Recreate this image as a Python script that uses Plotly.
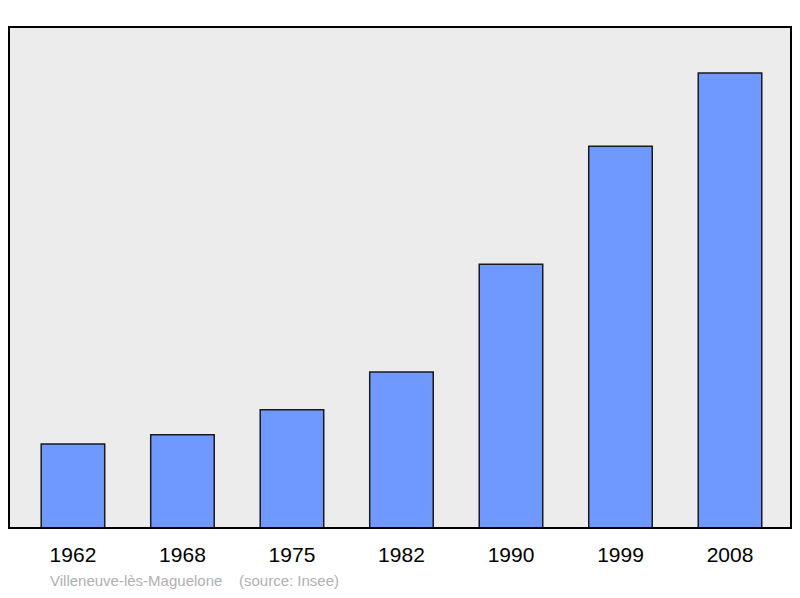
import plotly.graph_objects as go

years = ["1962", "1968", "1975", "1982", "1990", "1999", "2008"]
population = [1616, 1797, 2279, 3003, 5081, 7351, 8763]
labels = [f"{v:,}".replace(",", " ") for v in population]

fig = go.Figure(go.Bar(
    x=years, y=population, width=0.58,
    marker=dict(color="#7099ff", line=dict(color="#1a1a1a", width=1.5)),
))

notes = [dict(x=yr, y=v, text=t, showarrow=False, yanchor="bottom", yshift=8,
              font=dict(family="Liberation Sans", size=19, color="black"))
         for yr, v, t in zip(years, population, labels)]
notes.append(dict(text="Villeneuve-lès-Maguelone    (source: Insee)",
                  xref="paper", yref="paper", x=0.05, y=-0.105,
                  xanchor="left", yanchor="middle", showarrow=False,
                  font=dict(family="Liberation Sans", size=15, color="#b0b0b0")))

fig.update_layout(
    width=784, height=582,
    margin=dict(l=1, r=1, t=19, b=62),
    paper_bgcolor="white", plot_bgcolor="#ececec",
    showlegend=False,
    xaxis=dict(range=[-0.584, 6.557], showgrid=False, ticks="", ticklabelstandoff=12,
               tickfont=dict(family="Liberation Sans", size=21, color="black")),
    yaxis=dict(range=[0, 9650], visible=False),
    shapes=[dict(type="rect", xref="paper", yref="paper", x0=0, y0=0, x1=1, y1=1,
                 line=dict(color="black", width=2))],
    annotations=notes,
)

fig.write_html("out.html")
